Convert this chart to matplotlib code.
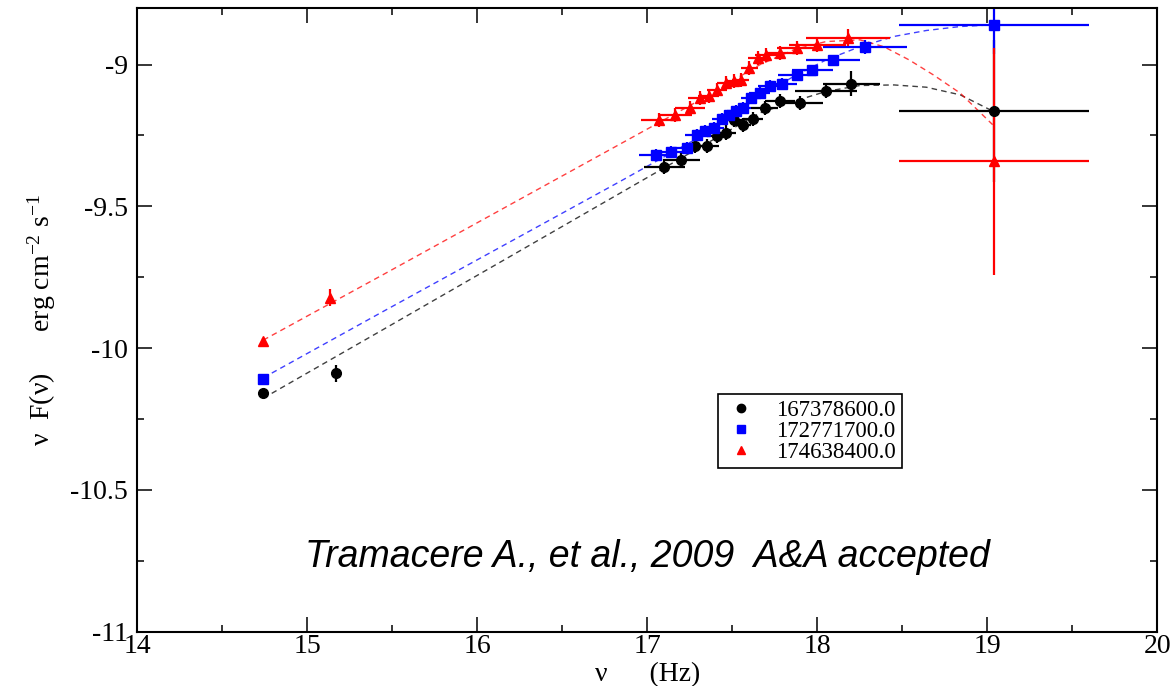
import matplotlib
matplotlib.use("Agg")
import matplotlib.pyplot as plt
from matplotlib.lines import Line2D
from matplotlib.ticker import MultipleLocator, FormatStrFormatter

plt.rcParams['font.family'] = ['Liberation Serif', 'DejaVu Serif']
plt.rcParams['mathtext.fontset'] = 'custom'
plt.rcParams['mathtext.rm'] = 'Liberation Serif'
plt.rcParams['mathtext.it'] = 'Liberation Serif:italic'
plt.rcParams['axes.unicode_minus'] = False

# --- data: log10(nu) vs log10(nu F(nu)) ---
labels = ['167378600.0', '172771700.0', '174638400.0']

# 167378600.0 (black circles)
x_blk = [14.74, 15.17, 17.10, 17.20, 17.28, 17.35, 17.41, 17.46, 17.51, 17.56,
         17.62, 17.69, 17.78, 17.90, 18.05, 18.20, 19.04]
y_blk = [-10.158, -10.089, -9.360, -9.337, -9.287, -9.287, -9.252, -9.240, -9.195, -9.212,
         -9.193, -9.154, -9.128, -9.136, -9.093, -9.068, -9.164]
xe_blk = [0.0, 0.0, 0.12, 0.11, 0.07, 0.07, 0.06, 0.06, 0.05, 0.05,
          0.06, 0.08, 0.09, 0.13, 0.18, 0.17, 0.56]
ye_blk = [0.012, 0.03, 0.025, 0.025, 0.025, 0.025, 0.025, 0.025, 0.025, 0.025,
          0.025, 0.025, 0.025, 0.025, 0.025, 0.044, 0.25]

# 172771700.0 (blue squares)
x_blu = [14.74, 17.05, 17.14, 17.23, 17.29, 17.34, 17.39, 17.44, 17.48, 17.52,
         17.56, 17.61, 17.66, 17.72, 17.79, 17.88, 17.97, 18.09, 18.28, 19.04]
y_blu = [-10.110, -9.318, -9.307, -9.293, -9.248, -9.234, -9.224, -9.191, -9.179, -9.163,
         -9.152, -9.119, -9.099, -9.076, -9.068, -9.037, -9.020, -8.985, -8.938, -8.862]
xe_blu = [0.0, 0.10, 0.09, 0.08, 0.07, 0.06, 0.06, 0.06, 0.05, 0.05,
          0.05, 0.06, 0.06, 0.07, 0.09, 0.11, 0.12, 0.16, 0.245, 0.56]
ye_blu = [0.015, 0.02, 0.02, 0.02, 0.02, 0.02, 0.02, 0.02, 0.02, 0.02,
          0.02, 0.02, 0.02, 0.02, 0.02, 0.02, 0.02, 0.02, 0.026, 0.10]

# 174638400.0 (red triangles)
x_red = [14.74, 15.13, 17.07, 17.16, 17.25, 17.31, 17.36, 17.41, 17.46, 17.51,
         17.55, 17.60, 17.65, 17.70, 17.78, 17.88, 18.00, 18.18, 19.04]
y_red = [-9.976, -9.822, -9.195, -9.179, -9.155, -9.119, -9.111, -9.090, -9.066, -9.058,
         -9.055, -9.013, -8.978, -8.967, -8.960, -8.943, -8.932, -8.905, -9.342]
xe_red = [0.0, 0.0, 0.11, 0.10, 0.09, 0.07, 0.06, 0.06, 0.05, 0.05,
          0.05, 0.05, 0.06, 0.07, 0.09, 0.12, 0.17, 0.245, 0.56]
ye_red = [0.012, 0.03, 0.025, 0.025, 0.025, 0.025, 0.025, 0.025, 0.025, 0.025,
          0.025, 0.025, 0.025, 0.025, 0.025, 0.025, 0.025, 0.03, 0.40]

# fitted model curves (dashed)
cx_blk = [14.74, 15.43, 16.96, 17.66, 17.86, 18.05, 18.25, 18.45, 18.64, 18.84, 19.03]
cy_blk = [-10.177, -9.940, -9.412, -9.171, -9.130, -9.095, -9.074, -9.072, -9.080, -9.107, -9.164]
cx_blu = [14.74, 15.43, 16.84, 17.30, 17.66, 17.86, 18.05, 18.25, 18.45, 18.64, 18.84, 19.03]
cy_blu = [-10.105, -9.876, -9.412, -9.258, -9.113, -9.042, -8.984, -8.937, -8.901, -8.880, -8.866, -8.860]
cx_red = [14.74, 15.43, 16.78, 17.30, 17.66, 17.86, 18.05, 18.25, 18.39, 18.54, 18.68, 18.84, 19.03]
cy_red = [-9.972, -9.746, -9.300, -9.128, -9.001, -8.948, -8.919, -8.913, -8.937, -8.984, -9.036, -9.101, -9.212]

fig = plt.figure(figsize=(11.7, 6.86), dpi=100)
ax = fig.add_axes([0.1175, 0.0794, 0.8718, 0.9092])

dash = (0, (4, 3))
ax.plot(cx_blk, cy_blk, color='black', lw=1.0, ls=dash, alpha=0.75)
ax.plot(cx_blu, cy_blu, color='#0000ff', lw=1.0, ls=dash, alpha=0.75)
ax.plot(cx_red, cy_red, color='#ff0000', lw=1.0, ls=dash, alpha=0.75)

ax.errorbar(x_blk, y_blk, xerr=xe_blk, yerr=ye_blk, fmt='o', color='black',
            ms=7, elinewidth=1.6, capsize=0)
ax.errorbar(x_blu, y_blu, xerr=xe_blu, yerr=ye_blu, fmt='s', color='#0000ff',
            ms=6.5, elinewidth=1.6, capsize=0)
ax.errorbar(x_red, y_red, xerr=xe_red, yerr=ye_red, fmt='^', color='#ff0000',
            ms=6.5, elinewidth=1.6, capsize=0)

ax.set_xlim(14, 20)
ax.set_ylim(-11, -8.8)
ax.xaxis.set_major_locator(MultipleLocator(1))
ax.xaxis.set_minor_locator(MultipleLocator(0.5))
ax.yaxis.set_major_locator(MultipleLocator(0.5))
ax.yaxis.set_minor_locator(MultipleLocator(0.25))
ax.yaxis.set_major_formatter(FormatStrFormatter('%g'))
ax.tick_params(which='both', direction='in', top=True, right=True, width=1.1)
ax.tick_params(which='major', length=10.5, labelsize=20)
ax.tick_params(axis='x', which='major', pad=2)
ax.tick_params(axis='y', which='major', pad=7)
ax.tick_params(which='minor', length=5)
for s in ax.spines.values():
    s.set_linewidth(1.5)

ax.set_xlabel('ν      (Hz)', fontsize=20, labelpad=2)
ax.set_ylabel('ν  F(ν)      erg cm$^{-2}$ s$^{-1}$', fontsize=20, labelpad=14)
ax.yaxis.set_label_coords(-0.078, 0.5)

ax.text(0.5, 0.119, 'Tramacere A., et al., 2009  A&A accepted', transform=ax.transAxes,
        ha='center', va='center', fontsize=27, style='italic', family='Liberation Sans')

handles = [Line2D([], [], ls='none', marker='o', color='black', ms=6),
           Line2D([], [], ls='none', marker='s', color='#0000ff', ms=5.5),
           Line2D([], [], ls='none', marker='^', color='#ff0000', ms=6)]
leg = ax.legend(handles, labels, loc='upper left', bbox_to_anchor=(0.569, 0.381),
                borderaxespad=0, fontsize=16.5, frameon=True, fancybox=False,
                edgecolor='black', framealpha=1, handlelength=1.5, handletextpad=0.8,
                labelspacing=0.0, borderpad=0.25)
leg.get_frame().set_linewidth(1.2)

fig.savefig('out.png', dpi=100)
